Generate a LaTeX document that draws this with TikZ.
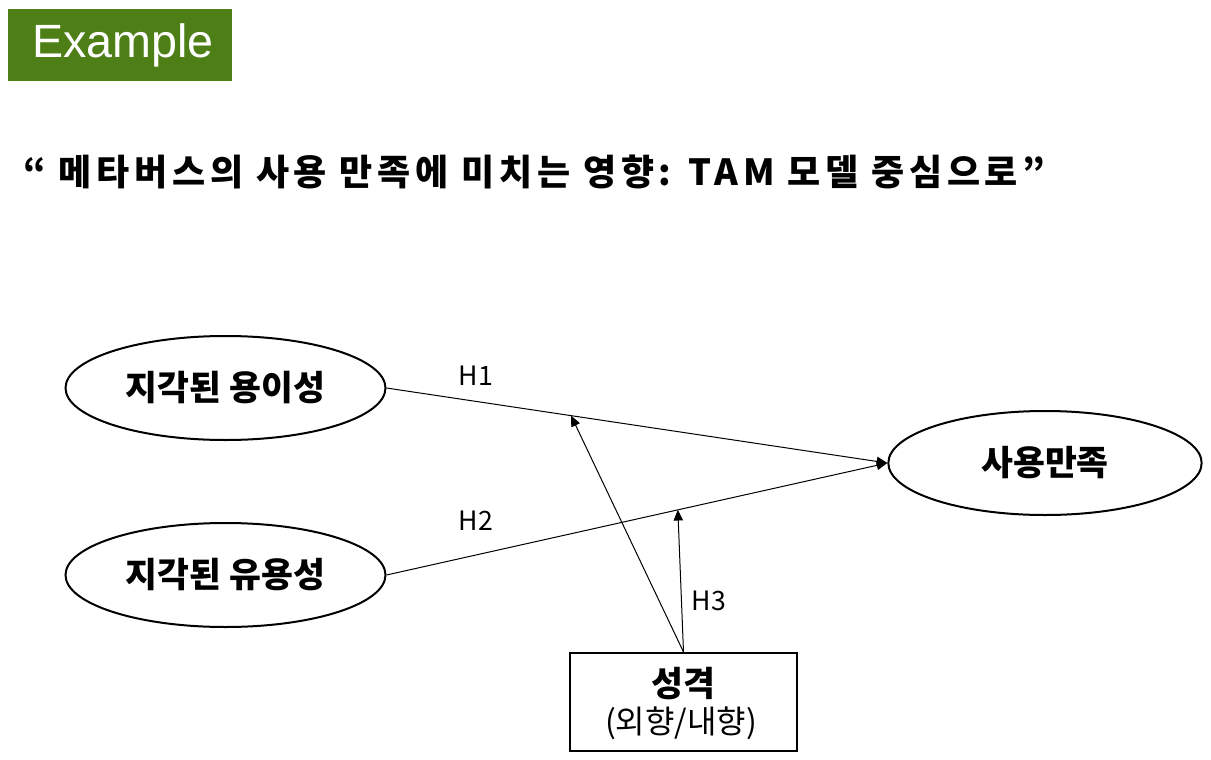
\documentclass[tikz,border=0pt]{standalone}
\usepackage{fontspec}
\setmainfont{Noto Sans CJK KR}
\newfontfamily\exfont{Liberation Sans}
\newfontfamily\titlefont[LetterSpace=13]{Noto Sans CJK KR}
\usetikzlibrary{arrows.meta,calc,shapes.geometric}
\definecolor{exgreen}{RGB}{78,127,23}
\begin{document}
\begin{tikzpicture}[x=0.75pt,y=-0.75pt,
  oval/.style={draw,line width=1.5pt,ellipse,inner sep=0pt,minimum width=240pt,minimum height=78pt,font=\fontsize{26}{30}\selectfont\bfseries},
  conn/.style={line width=0.75pt,-{Triangle[length=8pt,width=7pt]}},
  hlab/.style={font=\fontsize{20}{24}\selectfont},
]
\useasboundingbox (0,0) rectangle (1211,760);
\node[fill=exgreen,minimum width=168pt,minimum height=54pt,inner sep=0pt] (ex) at (120,45) {};
\node[text=white,font=\exfont\fontsize{35}{40}\selectfont,inner sep=0pt] (extext) at (123,45) {Example};
\node[anchor=west,font=\titlefont\fontsize{27}{31}\selectfont\bfseries,inner sep=0pt] (title) at (23,172) {“ 메타버스의 사용 만족에 미치는 영향: TAM 모델 중심으로”};
\node[oval] (e1) at (225.5,388) {지각된 용이성};
\node[oval] (e2) at (225.5,575) {지각된 유용성};
\node[oval,minimum width=235pt] (e3) at (1045,463) {사용만족};
\node[draw,line width=1.5pt,minimum width=170pt,minimum height=73.5pt,inner sep=0pt] (p) at (683.5,702) {};
\node[font=\fontsize{26}{30}\selectfont\bfseries,inner sep=0pt] (p1) at (683.5,684) {성격};
\node[font=\fontsize{24}{28}\selectfont,inner sep=0pt] (p2) at (681,723) {(외향/내향)};
\draw[conn] (e1.east) -- (e3.west);
\draw[conn] (e2.east) -- (e3.west);
\coordinate (m1) at ($(e1.east)!0.3685!(e3.west)$);
\coordinate (m2) at ($(e2.east)!0.5817!(e3.west)$);
\draw[conn] (p.north) -- (m1);
\draw[conn] (p.north) -- (m2);
\node[hlab] (h1) at (476,376) {H1};
\node[hlab] (h2) at (476,521) {H2};
\node[hlab] (h3) at (709,601) {H3};
\end{tikzpicture}
\end{document}
